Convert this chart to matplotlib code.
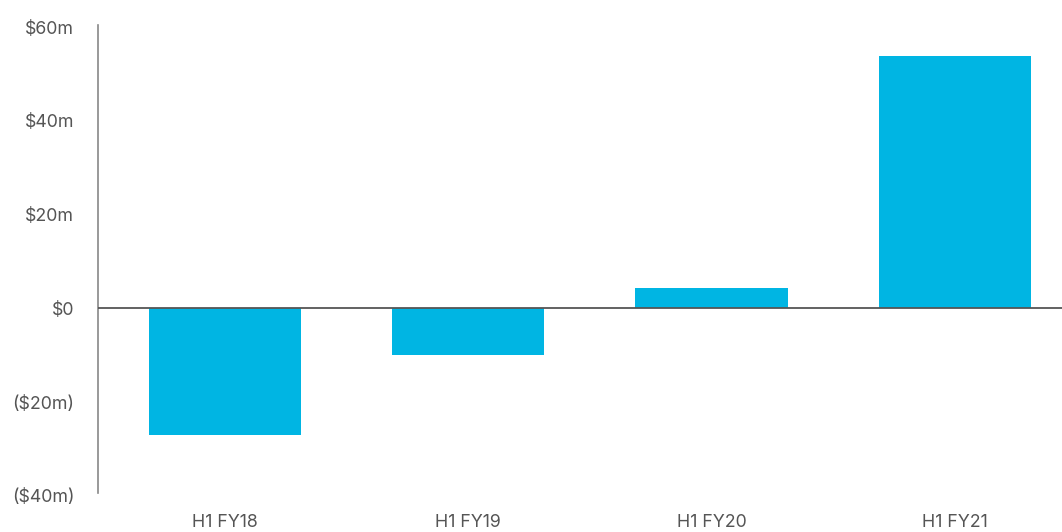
import matplotlib
matplotlib.use("Agg")
import matplotlib.pyplot as plt
from matplotlib.ticker import FixedLocator, FuncFormatter

# Half-year results ($m)
periods = ["H1 FY18", "H1 FY19", "H1 FY20", "H1 FY21"]
values = [-27.0, -9.9, 4.3, 53.8]
yticks = [-40, -20, 0, 20, 40, 60]

bar_color = "#00B5E3"
text_color = "#555555"

plt.rcParams["font.family"] = ["Inter", "DejaVu Sans"]

fig = plt.figure(figsize=(10.62, 5.32), dpi=100)
top_px, bottom_px = 24.7, 496.0
ax = fig.add_axes([98 / 1062, 1 - bottom_px / 532, 1 - 98 / 1062, (bottom_px - top_px) / 532])

x = list(range(len(periods)))
ax.bar(x, values, width=0.625, color=bar_color, zorder=2)
ax.axhline(0, color="#555555", linewidth=1.3, zorder=3)

ax.set_xlim(-0.52, 3.44)
ax.set_ylim(-40, 60.5)

def money(v, _pos=None):
    v = int(round(v))
    if v < 0:
        return f"(${-v}m)"
    if v == 0:
        return "$0"
    return f"${v}m"

ax.yaxis.set_major_locator(FixedLocator(yticks))
ax.yaxis.set_major_formatter(FuncFormatter(money))
ax.set_xticks(x)
ax.set_xticklabels(periods)

ax.tick_params(axis="y", length=0, pad=17, labelsize=12.8, labelcolor=text_color)
ax.tick_params(axis="x", length=0, pad=13, labelsize=12.8, labelcolor=text_color)

for side in ("top", "right", "bottom"):
    ax.spines[side].set_visible(False)
ax.spines["left"].set_color("#888888")
ax.spines["left"].set_linewidth(1.2)
ax.spines["left"].set_bounds(-39.4, 60.5)

fig.savefig("out.png", dpi=100)
